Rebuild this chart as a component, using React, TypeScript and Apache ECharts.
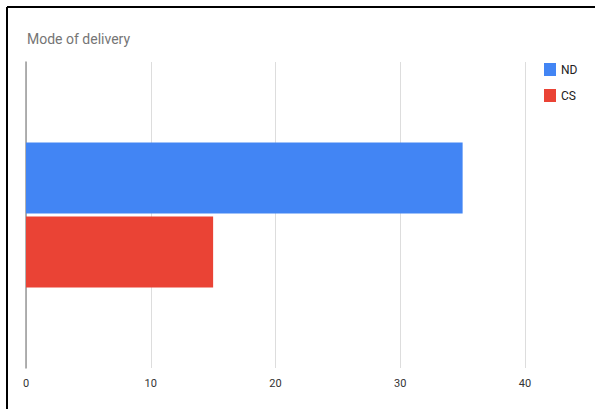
import React, { useEffect, useRef } from "react";
import * as echarts from "echarts";

const categories = ["Mode of delivery"];
const seriesNames = ["ND", "CS"];
const ndValues = [35];
const csValues = [15];
const tickValues = [0, 10, 20, 30, 40];

export default function App() {
  const ref = useRef<HTMLDivElement>(null);
  useEffect(() => {
    if (!ref.current) return;
    const chart = echarts.init(ref.current, null, { renderer: "svg" });
    chart.setOption({
      animation: false,
      backgroundColor: "#ffffff",
      title: {
        text: "Mode of delivery",
        left: 22,
        top: 27,
        textStyle: {
          fontFamily: "Roboto, Arial, sans-serif",
          fontSize: 14,
          fontWeight: "normal",
          color: "#757575",
        },
      },
      legend: {
        orient: "vertical",
        left: 539,
        top: 58,
        itemWidth: 12,
        itemHeight: 13,
        itemGap: 13,
        icon: "rect",
        data: seriesNames,
        textStyle: {
          fontFamily: "Roboto, Arial, sans-serif",
          fontSize: 12,
          color: "#222222",
        },
      },
      grid: { left: 26, right: 70, top: 62, bottom: 41, containLabel: false },
      xAxis: {
        type: "value",
        min: tickValues[0],
        max: tickValues[tickValues.length - 1],
        interval: 10,
        axisLine: { show: false },
        axisTick: { show: false },
        axisLabel: {
          margin: 10,
          fontFamily: "Roboto, Arial, sans-serif",
          fontSize: 11,
          color: "#333333",
        },
        splitLine: { show: true, lineStyle: { color: "#dddddd", width: 1 } },
      },
      yAxis: {
        type: "category",
        inverse: true,
        data: categories,
        axisLine: { show: true, lineStyle: { color: "#999999", width: 1.5 } },
        axisTick: { show: false },
        axisLabel: { show: false },
      },
      series: [
        {
          name: seriesNames[0],
          type: "bar",
          data: ndValues,
          barWidth: 71,
          barGap: "4%",
          itemStyle: { color: "#4285f4" },
        },
        {
          name: seriesNames[1],
          type: "bar",
          data: csValues,
          barWidth: 71,
          barGap: "4%",
          itemStyle: { color: "#ea4335" },
        },
      ],
      graphic: [
        {
          type: "line",
          shape: { x1: 7, y1: 7, x2: 595, y2: 7 },
          style: { stroke: "#000000", lineWidth: 2 },
          z: 100,
        },
        {
          type: "line",
          shape: { x1: 7, y1: 7, x2: 7, y2: 409 },
          style: { stroke: "#000000", lineWidth: 2 },
          z: 100,
        },
      ],
    });
    return () => chart.dispose();
  }, []);
  return (
    <div
      ref={ref}
      style={{ position: "fixed", left: 0, top: 0, width: 595, height: 409 }}
    />
  );
}
